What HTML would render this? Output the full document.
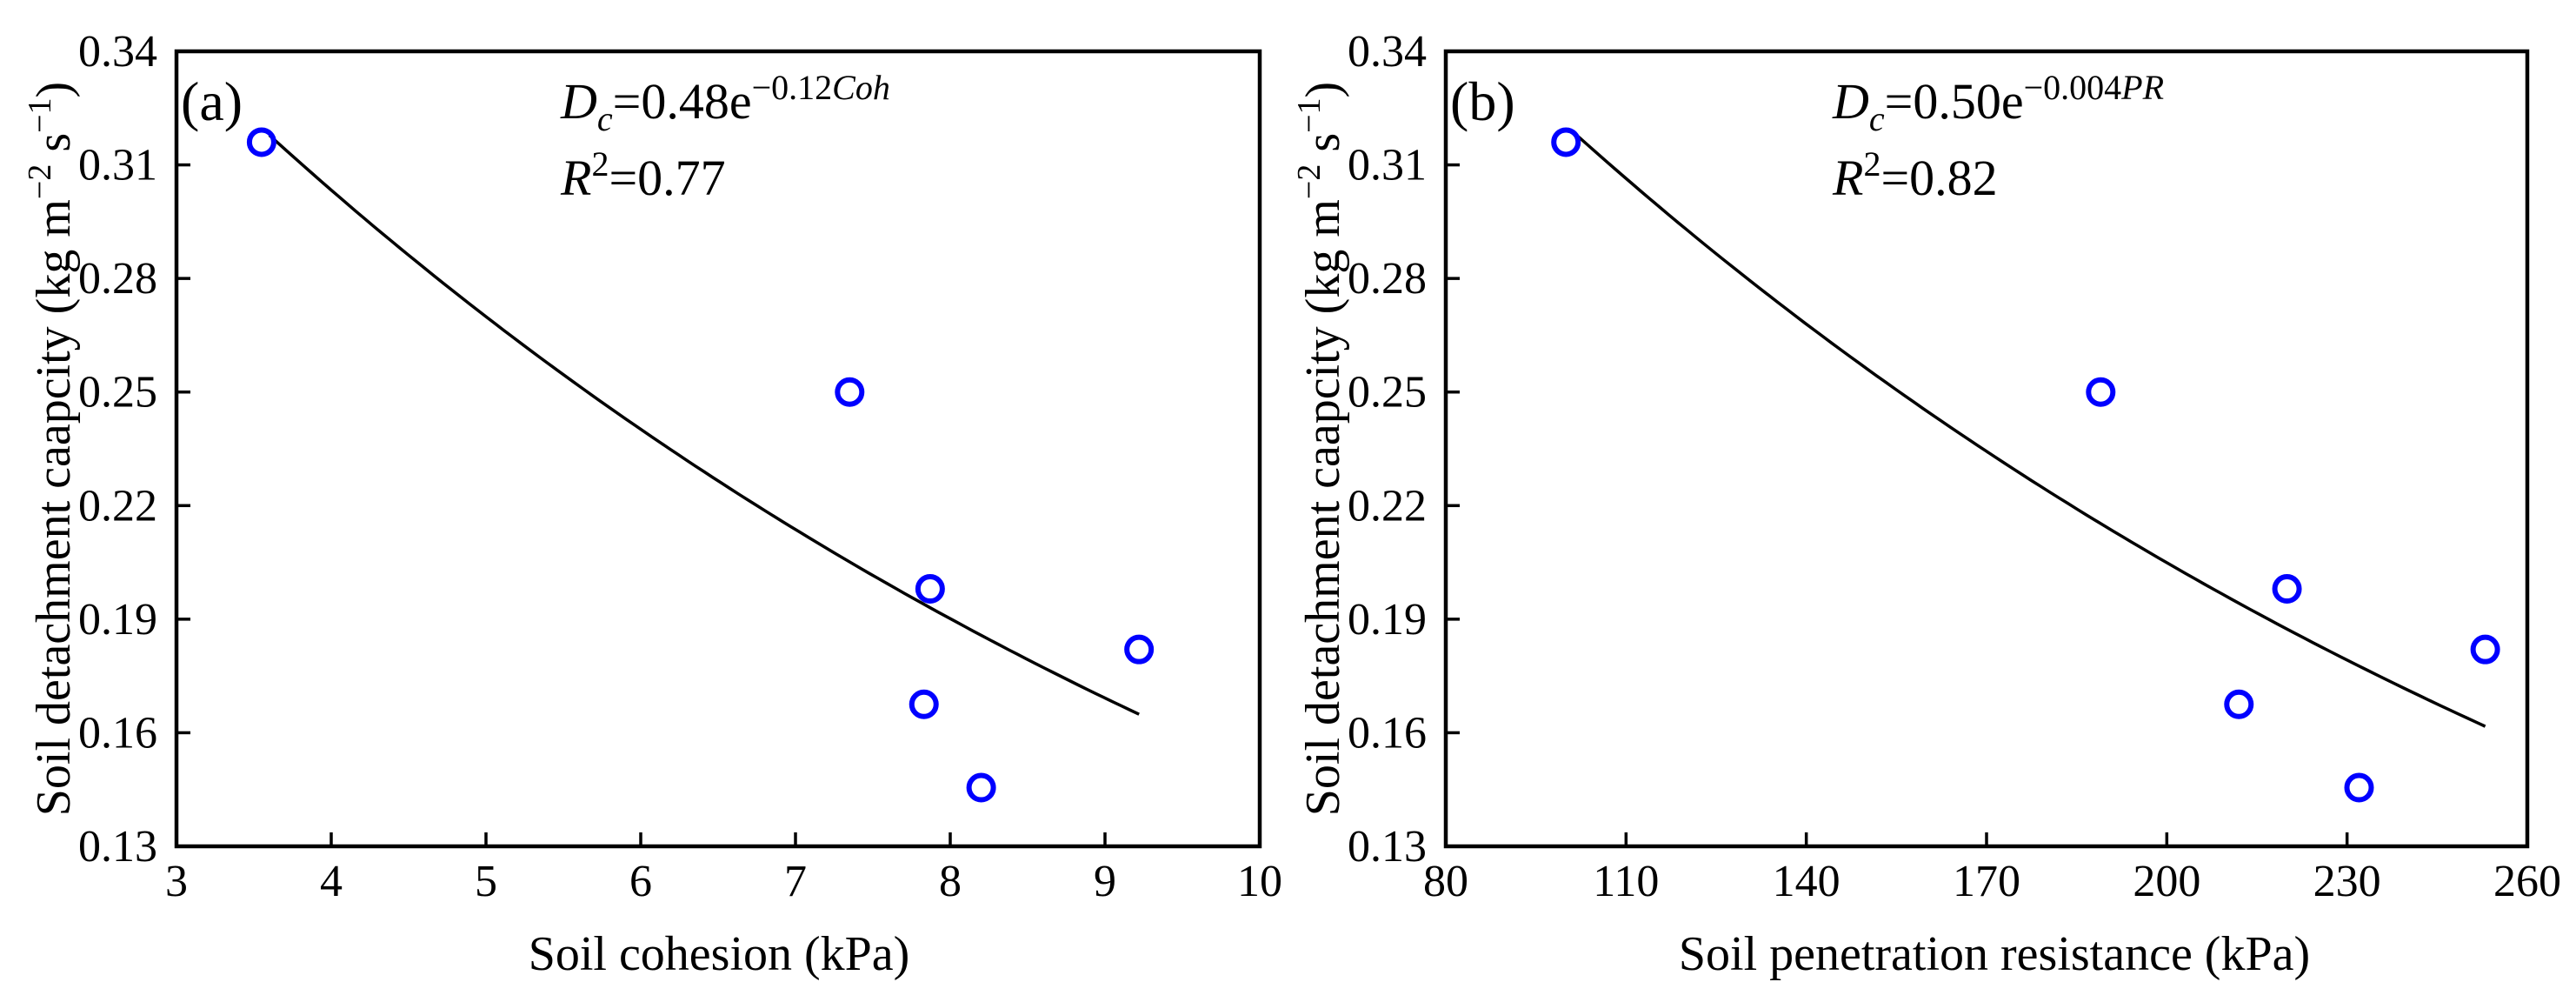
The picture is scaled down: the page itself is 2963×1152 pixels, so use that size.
<!DOCTYPE html>
<html><head><meta charset="utf-8"><style>
html,body{margin:0;padding:0;background:#fff;}
svg{display:block;font-family:"Liberation Serif","DejaVu Serif",serif;}
svg text{font-family:"Liberation Serif","DejaVu Serif",serif;}
</style></head><body>
<svg id="fig" width="2963" height="1152" viewBox="0 0 2963 1152" xmlns="http://www.w3.org/2000/svg" font-family="Liberation Serif, serif"></svg>
<script>
const yTicks = [0.13, 0.16, 0.19, 0.22, 0.25, 0.28, 0.31, 0.34];
const xTicksA = [3, 4, 5, 6, 7, 8, 9, 10];
const xTicksB = [80, 110, 140, 170, 200, 230, 260];
const cohesion = [3.55, 7.35, 7.87, 7.83, 8.2, 9.22];
const penetration = [100, 189, 220, 212, 232, 253];
const dcValues = [0.316, 0.250, 0.198, 0.1675, 0.1455, 0.182];
const fitA = [0.484, 0.1168];
const fitB = [0.501, 0.00447];

const NS = "http://www.w3.org/2000/svg";
const svg = document.getElementById('fig');
function mk(tag, attrs, parent, text){
  const e = document.createElementNS(NS, tag);
  for (const k in attrs) e.setAttribute(k, attrs[k]);
  if (tag === 'text') e.setAttribute('font-family', 'Liberation Serif, serif');
  if (text !== undefined) e.textContent = text;
  (parent || svg).appendChild(e);
  return e;
}

function panel(cfg){
  const g = mk('g', {});
  
  
  const L = cfg.left, R = cfg.right, T = 59, B = 973;
  const xs = v => L + (v - cfg.xt[0]) / (cfg.xt[cfg.xt.length-1] - cfg.xt[0]) * (R - L);
  const ys = v => B - (v - 0.13) / (0.34 - 0.13) * (B - T);
  const frame = mk('rect', {x:L, y:T, width:R-L, height:B-T, fill:'none', stroke:'#000', 'stroke-width':4.5}, g);
  
  
  cfg.xt.forEach((t, i) => {
    const x = xs(t);
    if (i > 0 && i < cfg.xt.length-1) {
      const tk = mk('line', {x1:x, x2:x, y1:B, y2:B-16, stroke:'#000', 'stroke-width':3.5}, g);
      
      
    }
    const lb = mk('text', {x:x, y:1030, 'font-size':52, 'text-anchor':'middle'}, g, String(t));
    
    
  });
  yTicks.forEach((t, i) => {
    const y = ys(t);
    if (i > 0 && i < yTicks.length-1) {
      const tk = mk('line', {x1:L, x2:L+16, y1:y, y2:y, stroke:'#000', 'stroke-width':3.5}, g);
      
      
    }
    const lb = mk('text', {x:L-22, y:y+17, 'font-size':52, 'text-anchor':'end'}, g, t.toFixed(2));
    
    
  });
  const xv = cfg.xv;
  const x0 = cfg.curveStart, x1 = Math.max(...xv);
  let d = '';
  for (let i = 0; i <= 100; i++) {
    const v = x0 + (x1 - x0) * i / 100;
    const yv = cfg.fit[0] * Math.exp(-cfg.fit[1] * v);
    d += (i ? 'L' : 'M') + xs(v).toFixed(1) + ',' + ys(yv).toFixed(1);
  }
  const c = mk('path', {d:d, fill:'none', stroke:'#000', 'stroke-width':3.5}, g);
  
  
  xv.forEach((v, i) => {
    const p = mk('circle', {cx:xs(v), cy:ys(dcValues[i]), r:14, fill:'none', stroke:'#0000ff', 'stroke-width':6}, g);
    
    
  });
  const pl = mk('text', {x:L+5, y:138, 'font-size':64}, g, cfg.label);
  
  
  const eq = mk('text', {x:cfg.eqx, y:136, 'font-size':58}, g);
  
  
  eq.innerHTML = '<tspan font-style="italic">D</tspan><tspan font-style="italic" font-size="40" dy="14">c</tspan><tspan dy="-14">=' + cfg.eqA + 'e</tspan><tspan font-size="40" dy="-22">\u2212' + cfg.eqK + '</tspan><tspan font-size="40" font-style="italic">' + cfg.eqV + '</tspan>';
  const r2 = mk('text', {x:cfg.eqx, y:224, 'font-size':58}, g);
  
  
  r2.innerHTML = '<tspan font-style="italic">R</tspan><tspan font-size="40" dy="-22">2</tspan><tspan dy="22">=' + cfg.r2 + '</tspan>';
  const xt = mk('text', {x:cfg.xtx, y:1115, 'font-size':56, 'text-anchor':'middle'}, g, cfg.xtitle);
  
  
  const yt = mk('text', {x:0, y:0, 'font-size':56, 'text-anchor':'middle', transform:'translate(' + (cfg.ytx) + ',' + ((T+B)/2) + ') rotate(-90)'}, g);
  
  
  yt.innerHTML = 'Soil detachment caapcity (kg m<tspan font-size="38" dy="-22">\u22122</tspan><tspan dy="22"> s</tspan><tspan font-size="38" dy="-22">\u22121</tspan><tspan dy="22">)</tspan>';
}

panel({name:'panel-a', left:203, right:1449, xt:xTicksA, xv:cohesion, fit:fitA, curveStart:3.6,
  label:'(a)', eqx:645, eqA:'0.48', eqK:'0.12', eqV:'Coh', r2:'0.77', xtitle:'Soil cohesion (kPa)', xtx:827, ytx:80});
panel({name:'panel-b', left:1663, right:2907, xt:xTicksB, xv:penetration, fit:fitB, curveStart:102,
  label:'(b)', eqx:2108, eqA:'0.50', eqK:'0.004', eqV:'PR', r2:'0.82', xtitle:'Soil penetration resistance (kPa)', xtx:2294, ytx:1540});
</script>
</body></html>
